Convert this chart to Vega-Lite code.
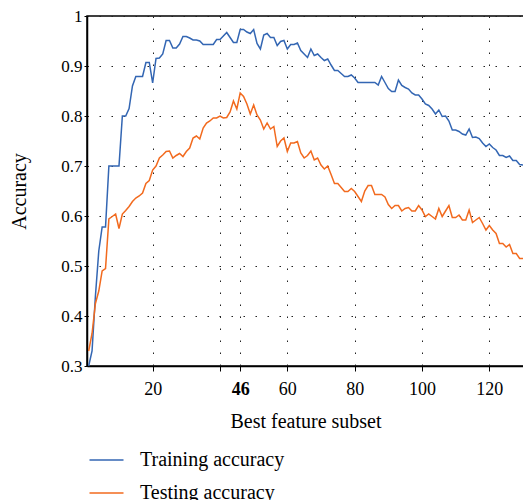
{
  "$schema": "https://vega.github.io/schema/vega-lite/v6.json",
  "width": 437,
  "height": 350,
  "autosize": {"type": "none"},
  "padding": {"left": 87, "top": 16, "right": 0, "bottom": 134},
  "background": "white",
  "config": {
    "font": "Liberation Serif",
    "view": {"stroke": "black", "strokeWidth": 1.5},
    "axis": {
      "labelFont": "Liberation Serif",
      "titleFont": "Liberation Serif",
      "domainColor": "black",
      "domainWidth": 1.5,
      "tickColor": "black",
      "labelColor": "black",
      "titleColor": "black",
      "titleFontWeight": "normal",
      "grid": true,
      "gridColor": "#222222",
      "gridDash": [1.5, 10.5],
      "gridWidth": 1
    },
    "legend": {"labelFont": "Liberation Serif"}
  },
  "data": {
    "values": [
      {"x": 1, "Training accuracy": 0.300, "Testing accuracy": 0.330},
      {"x": 2, "Training accuracy": 0.330, "Testing accuracy": 0.365},
      {"x": 3, "Training accuracy": 0.440, "Testing accuracy": 0.425},
      {"x": 4, "Training accuracy": 0.530, "Testing accuracy": 0.450},
      {"x": 5, "Training accuracy": 0.578, "Testing accuracy": 0.490},
      {"x": 6, "Training accuracy": 0.578, "Testing accuracy": 0.495},
      {"x": 7, "Training accuracy": 0.700, "Testing accuracy": 0.594},
      {"x": 8, "Training accuracy": 0.700, "Testing accuracy": 0.599},
      {"x": 9, "Training accuracy": 0.700, "Testing accuracy": 0.604},
      {"x": 10, "Training accuracy": 0.700, "Testing accuracy": 0.575},
      {"x": 11, "Training accuracy": 0.800, "Testing accuracy": 0.604},
      {"x": 12, "Training accuracy": 0.800, "Testing accuracy": 0.611},
      {"x": 13, "Training accuracy": 0.815, "Testing accuracy": 0.619},
      {"x": 14, "Training accuracy": 0.860, "Testing accuracy": 0.629},
      {"x": 15, "Training accuracy": 0.879, "Testing accuracy": 0.636},
      {"x": 16, "Training accuracy": 0.879, "Testing accuracy": 0.640},
      {"x": 17, "Training accuracy": 0.879, "Testing accuracy": 0.646},
      {"x": 18, "Training accuracy": 0.907, "Testing accuracy": 0.665},
      {"x": 19, "Training accuracy": 0.907, "Testing accuracy": 0.671},
      {"x": 20, "Training accuracy": 0.866, "Testing accuracy": 0.692},
      {"x": 21, "Training accuracy": 0.915, "Testing accuracy": 0.700},
      {"x": 22, "Training accuracy": 0.916, "Testing accuracy": 0.716},
      {"x": 23, "Training accuracy": 0.924, "Testing accuracy": 0.722},
      {"x": 24, "Training accuracy": 0.951, "Testing accuracy": 0.729},
      {"x": 25, "Training accuracy": 0.951, "Testing accuracy": 0.730},
      {"x": 26, "Training accuracy": 0.936, "Testing accuracy": 0.716},
      {"x": 27, "Training accuracy": 0.936, "Testing accuracy": 0.721},
      {"x": 28, "Training accuracy": 0.944, "Testing accuracy": 0.725},
      {"x": 29, "Training accuracy": 0.959, "Testing accuracy": 0.719},
      {"x": 30, "Training accuracy": 0.959, "Testing accuracy": 0.729},
      {"x": 31, "Training accuracy": 0.956, "Testing accuracy": 0.736},
      {"x": 32, "Training accuracy": 0.952, "Testing accuracy": 0.756},
      {"x": 33, "Training accuracy": 0.952, "Testing accuracy": 0.760},
      {"x": 34, "Training accuracy": 0.950, "Testing accuracy": 0.754},
      {"x": 35, "Training accuracy": 0.943, "Testing accuracy": 0.776},
      {"x": 36, "Training accuracy": 0.943, "Testing accuracy": 0.786},
      {"x": 37, "Training accuracy": 0.943, "Testing accuracy": 0.790},
      {"x": 38, "Training accuracy": 0.943, "Testing accuracy": 0.796},
      {"x": 39, "Training accuracy": 0.953, "Testing accuracy": 0.796},
      {"x": 40, "Training accuracy": 0.953, "Testing accuracy": 0.800},
      {"x": 41, "Training accuracy": 0.960, "Testing accuracy": 0.796},
      {"x": 42, "Training accuracy": 0.967, "Testing accuracy": 0.797},
      {"x": 43, "Training accuracy": 0.957, "Testing accuracy": 0.808},
      {"x": 44, "Training accuracy": 0.947, "Testing accuracy": 0.830},
      {"x": 45, "Training accuracy": 0.947, "Testing accuracy": 0.814},
      {"x": 46, "Training accuracy": 0.973, "Testing accuracy": 0.846},
      {"x": 47, "Training accuracy": 0.973, "Testing accuracy": 0.839},
      {"x": 48, "Training accuracy": 0.968, "Testing accuracy": 0.824},
      {"x": 49, "Training accuracy": 0.965, "Testing accuracy": 0.804},
      {"x": 50, "Training accuracy": 0.973, "Testing accuracy": 0.822},
      {"x": 51, "Training accuracy": 0.945, "Testing accuracy": 0.802},
      {"x": 52, "Training accuracy": 0.934, "Testing accuracy": 0.792},
      {"x": 53, "Training accuracy": 0.962, "Testing accuracy": 0.774},
      {"x": 54, "Training accuracy": 0.965, "Testing accuracy": 0.786},
      {"x": 55, "Training accuracy": 0.957, "Testing accuracy": 0.774},
      {"x": 56, "Training accuracy": 0.957, "Testing accuracy": 0.779},
      {"x": 57, "Training accuracy": 0.941, "Testing accuracy": 0.739},
      {"x": 58, "Training accuracy": 0.949, "Testing accuracy": 0.750},
      {"x": 59, "Training accuracy": 0.951, "Testing accuracy": 0.756},
      {"x": 60, "Training accuracy": 0.934, "Testing accuracy": 0.729},
      {"x": 61, "Training accuracy": 0.943, "Testing accuracy": 0.746},
      {"x": 62, "Training accuracy": 0.943, "Testing accuracy": 0.746},
      {"x": 63, "Training accuracy": 0.946, "Testing accuracy": 0.749},
      {"x": 64, "Training accuracy": 0.931, "Testing accuracy": 0.726},
      {"x": 65, "Training accuracy": 0.924, "Testing accuracy": 0.716},
      {"x": 66, "Training accuracy": 0.917, "Testing accuracy": 0.721},
      {"x": 67, "Training accuracy": 0.934, "Testing accuracy": 0.730},
      {"x": 68, "Training accuracy": 0.921, "Testing accuracy": 0.712},
      {"x": 69, "Training accuracy": 0.924, "Testing accuracy": 0.716},
      {"x": 70, "Training accuracy": 0.917, "Testing accuracy": 0.702},
      {"x": 71, "Training accuracy": 0.911, "Testing accuracy": 0.694},
      {"x": 72, "Training accuracy": 0.914, "Testing accuracy": 0.700},
      {"x": 73, "Training accuracy": 0.902, "Testing accuracy": 0.683},
      {"x": 74, "Training accuracy": 0.891, "Testing accuracy": 0.665},
      {"x": 75, "Training accuracy": 0.891, "Testing accuracy": 0.665},
      {"x": 76, "Training accuracy": 0.885, "Testing accuracy": 0.657},
      {"x": 77, "Training accuracy": 0.879, "Testing accuracy": 0.649},
      {"x": 78, "Training accuracy": 0.879, "Testing accuracy": 0.649},
      {"x": 79, "Training accuracy": 0.882, "Testing accuracy": 0.655},
      {"x": 80, "Training accuracy": 0.876, "Testing accuracy": 0.649},
      {"x": 81, "Training accuracy": 0.867, "Testing accuracy": 0.639},
      {"x": 82, "Training accuracy": 0.867, "Testing accuracy": 0.629},
      {"x": 83, "Training accuracy": 0.867, "Testing accuracy": 0.650},
      {"x": 84, "Training accuracy": 0.867, "Testing accuracy": 0.661},
      {"x": 85, "Training accuracy": 0.867, "Testing accuracy": 0.661},
      {"x": 86, "Training accuracy": 0.867, "Testing accuracy": 0.643},
      {"x": 87, "Training accuracy": 0.862, "Testing accuracy": 0.643},
      {"x": 88, "Training accuracy": 0.879, "Testing accuracy": 0.643},
      {"x": 89, "Training accuracy": 0.867, "Testing accuracy": 0.638},
      {"x": 90, "Training accuracy": 0.855, "Testing accuracy": 0.623},
      {"x": 91, "Training accuracy": 0.849, "Testing accuracy": 0.615},
      {"x": 92, "Training accuracy": 0.849, "Testing accuracy": 0.621},
      {"x": 93, "Training accuracy": 0.872, "Testing accuracy": 0.621},
      {"x": 94, "Training accuracy": 0.861, "Testing accuracy": 0.610},
      {"x": 95, "Training accuracy": 0.857, "Testing accuracy": 0.615},
      {"x": 96, "Training accuracy": 0.854, "Testing accuracy": 0.617},
      {"x": 97, "Training accuracy": 0.846, "Testing accuracy": 0.610},
      {"x": 98, "Training accuracy": 0.842, "Testing accuracy": 0.610},
      {"x": 99, "Training accuracy": 0.842, "Testing accuracy": 0.621},
      {"x": 100, "Training accuracy": 0.834, "Testing accuracy": 0.612},
      {"x": 101, "Training accuracy": 0.824, "Testing accuracy": 0.599},
      {"x": 102, "Training accuracy": 0.821, "Testing accuracy": 0.604},
      {"x": 103, "Training accuracy": 0.814, "Testing accuracy": 0.599},
      {"x": 104, "Training accuracy": 0.804, "Testing accuracy": 0.594},
      {"x": 105, "Training accuracy": 0.812, "Testing accuracy": 0.615},
      {"x": 106, "Training accuracy": 0.799, "Testing accuracy": 0.599},
      {"x": 107, "Training accuracy": 0.800, "Testing accuracy": 0.610},
      {"x": 108, "Training accuracy": 0.790, "Testing accuracy": 0.621},
      {"x": 109, "Training accuracy": 0.772, "Testing accuracy": 0.597},
      {"x": 110, "Training accuracy": 0.772, "Testing accuracy": 0.597},
      {"x": 111, "Training accuracy": 0.769, "Testing accuracy": 0.602},
      {"x": 112, "Training accuracy": 0.764, "Testing accuracy": 0.592},
      {"x": 113, "Training accuracy": 0.762, "Testing accuracy": 0.592},
      {"x": 114, "Training accuracy": 0.774, "Testing accuracy": 0.612},
      {"x": 115, "Training accuracy": 0.757, "Testing accuracy": 0.587},
      {"x": 116, "Training accuracy": 0.758, "Testing accuracy": 0.592},
      {"x": 117, "Training accuracy": 0.755, "Testing accuracy": 0.597},
      {"x": 118, "Training accuracy": 0.746, "Testing accuracy": 0.585},
      {"x": 119, "Training accuracy": 0.739, "Testing accuracy": 0.572},
      {"x": 120, "Training accuracy": 0.744, "Testing accuracy": 0.581},
      {"x": 121, "Training accuracy": 0.737, "Testing accuracy": 0.572},
      {"x": 122, "Training accuracy": 0.732, "Testing accuracy": 0.565},
      {"x": 123, "Training accuracy": 0.721, "Testing accuracy": 0.545},
      {"x": 124, "Training accuracy": 0.721, "Testing accuracy": 0.545},
      {"x": 125, "Training accuracy": 0.717, "Testing accuracy": 0.538},
      {"x": 126, "Training accuracy": 0.720, "Testing accuracy": 0.543},
      {"x": 127, "Training accuracy": 0.711, "Testing accuracy": 0.525},
      {"x": 128, "Training accuracy": 0.711, "Testing accuracy": 0.525},
      {"x": 129, "Training accuracy": 0.703, "Testing accuracy": 0.515},
      {"x": 130, "Training accuracy": 0.702, "Testing accuracy": 0.515}
    ]
  },
  "transform": [
    {"fold": ["Training accuracy", "Testing accuracy"], "as": ["series", "value"]}
  ],
  "mark": {"type": "line", "strokeWidth": 1.5},
  "encoding": {
    "x": {
      "field": "x",
      "type": "quantitative",
      "scale": {"domain": [0.5, 130.3], "nice": false, "zero": false},
      "axis": {
        "values": [20, 40, 46, 60, 80, 100, 120],
        "labelExpr": "datum.value == 40 ? '' : datum.label",
        "labelFontWeight": {"condition": {"test": "datum.value == 46", "value": "bold"}, "value": "normal"},
        "labelFont": "Liberation Serif",
        "labelFontSize": 18,
        "labelPadding": 9,
        "tickSize": 5,
        "title": "Best feature subset",
        "titleFont": "Liberation Serif",
        "titleFontSize": 20,
        "titleBaseline": "alphabetic",
        "titleY": 61
      }
    },
    "y": {
      "field": "value",
      "type": "quantitative",
      "scale": {"domain": [0.3, 1], "nice": false, "zero": false},
      "axis": {
        "values": [0.3, 0.4, 0.5, 0.6, 0.7, 0.8, 0.9, 1],
        "format": "~g",
        "labelFont": "Liberation Serif",
        "labelFontSize": 17,
        "labelPadding": 2,
        "tickSize": 3,
        "title": "Accuracy",
        "titleFont": "Liberation Serif",
        "titleFontSize": 20,
        "titleAngle": 270,
        "titleBaseline": "alphabetic",
        "titleX": -62
      }
    },
    "color": {
      "field": "series",
      "type": "nominal",
      "scale": {"domain": ["Training accuracy", "Testing accuracy"], "range": ["#3366b3", "#f26a1e"]},
      "legend": {
        "title": null,
        "orient": "none",
        "legendX": 9.5,
        "legendY": 434,
        "padding": 0,
        "symbolType": "M-2,0H2",
        "symbolSize": 289,
        "symbolStrokeWidth": 1.5,
        "labelFont": "Liberation Serif",
        "labelFontSize": 20,
        "labelColor": "black",
        "labelOffset": 23.5,
        "labelLimit": 0,
        "rowPadding": 13
      }
    }
  }
}
